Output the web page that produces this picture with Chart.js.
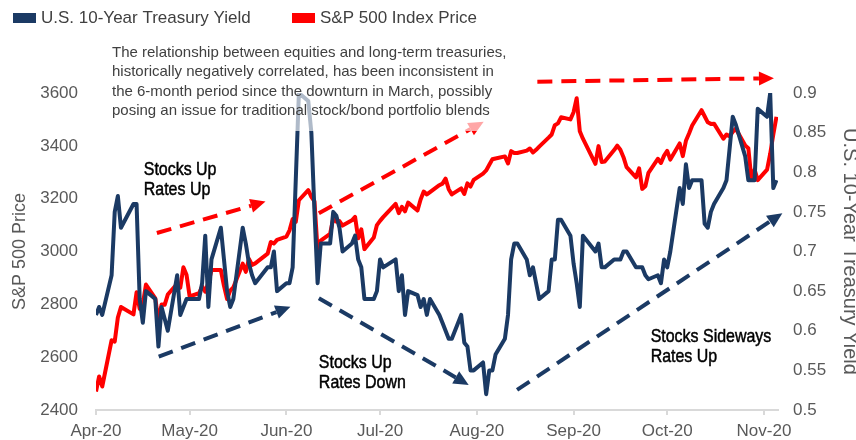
<!DOCTYPE html>
<html>
<head>
<meta charset="utf-8">
<script src="https://cdn.jsdelivr.net/npm/chart.js@4.4.0/dist/chart.umd.min.js"></script>
<style>
  html, body { margin: 0; padding: 0; background: #fff; }
</style>
</head>
<body>
<canvas id="myChart" width="856" height="440"></canvas>
<script>
// trading days, Apr 1 - Nov 5 2020
const dates = [
  '4/1','4/2','4/3','4/6','4/7','4/8','4/9','4/13','4/14','4/15','4/16','4/17','4/20','4/21','4/22','4/23','4/24','4/27','4/28','4/29','4/30',
  '5/1','5/4','5/5','5/6','5/7','5/8','5/11','5/12','5/13','5/14','5/15','5/18','5/19','5/20','5/21','5/22','5/26','5/27','5/28','5/29',
  '6/1','6/2','6/3','6/4','6/5','6/8','6/9','6/10','6/11','6/12','6/15','6/16','6/17','6/18','6/19','6/22','6/23','6/24','6/25','6/26','6/29','6/30',
  '7/1','7/2','7/6','7/7','7/8','7/9','7/10','7/13','7/14','7/15','7/16','7/17','7/20','7/21','7/22','7/23','7/24','7/27','7/28','7/29','7/30','7/31',
  '8/3','8/4','8/5','8/6','8/7','8/10','8/11','8/12','8/13','8/14','8/17','8/18','8/19','8/20','8/21','8/24','8/25','8/26','8/27','8/28','8/31',
  '9/1','9/2','9/3','9/4','9/8','9/9','9/10','9/11','9/14','9/15','9/16','9/17','9/18','9/21','9/22','9/23','9/24','9/25','9/28','9/29','9/30',
  '10/1','10/2','10/5','10/6','10/7','10/8','10/9','10/12','10/13','10/14','10/15','10/16','10/19','10/20','10/21','10/22','10/23','10/26','10/27','10/28','10/29','10/30',
  '11/2','11/3','11/4','11/5'
];

const spxPrice = [
  2470, 2527, 2489, 2664, 2659, 2750, 2790, 2762, 2846, 2783, 2800, 2875, 2823, 2737, 2799, 2798, 2837, 2878, 2863, 2940, 2912,
  2830, 2842, 2868, 2848, 2881, 2930, 2930, 2870, 2820, 2852, 2864, 2954, 2923, 2972, 2949, 2955, 2992, 3036, 3030, 3044,
  3056, 3080, 3123, 3112, 3194, 3232, 3207, 3190, 3002, 3041, 3067, 3125, 3113, 3115, 3098, 3118, 3131, 3050, 3084, 3009, 3053, 3100,
  3116, 3130, 3180, 3145, 3169, 3152, 3185, 3155, 3197, 3227, 3216, 3225, 3251, 3257, 3276, 3236, 3216, 3239, 3218, 3258, 3246, 3271,
  3295, 3307, 3328, 3349, 3352, 3360, 3333, 3380, 3373, 3373, 3382, 3390, 3375, 3385, 3397, 3431, 3443, 3478, 3485, 3508, 3500,
  3527, 3580, 3455, 3427, 3332, 3399, 3339, 3341, 3384, 3401, 3385, 3357, 3319, 3281, 3315, 3237, 3247, 3298, 3351, 3335, 3363,
  3381, 3348, 3409, 3361, 3419, 3447, 3477, 3535, 3512, 3489, 3483, 3484, 3427, 3443, 3436, 3453, 3465, 3401, 3391, 3271, 3310, 3270,
  3310, 3370, 3443, 3510
];

const treasuryYield = [
  0.62, 0.63, 0.62, 0.67, 0.75, 0.77, 0.73, 0.76, 0.76, 0.64, 0.61, 0.65, 0.64, 0.58, 0.63, 0.615, 0.60, 0.67, 0.62, 0.63, 0.64,
  0.64, 0.64, 0.66, 0.72, 0.63, 0.69, 0.73, 0.69, 0.65, 0.63, 0.64, 0.73, 0.71, 0.685, 0.67, 0.66, 0.68, 0.68, 0.70, 0.65,
  0.66, 0.66, 0.68, 0.79, 0.90, 0.89, 0.85, 0.75, 0.66, 0.71, 0.71, 0.75, 0.745, 0.73, 0.70, 0.71, 0.72, 0.69, 0.68, 0.64, 0.64, 0.65,
  0.69, 0.68, 0.69, 0.65, 0.67, 0.62, 0.65, 0.645, 0.63, 0.64, 0.62, 0.64, 0.62, 0.61, 0.60, 0.59, 0.59, 0.62, 0.585, 0.58, 0.55, 0.55,
  0.56, 0.52, 0.55, 0.55, 0.57, 0.59, 0.62, 0.69, 0.71, 0.71, 0.69, 0.67, 0.68, 0.66, 0.64, 0.65, 0.69, 0.69, 0.74, 0.74, 0.72,
  0.685, 0.66, 0.63, 0.72, 0.70, 0.71, 0.68, 0.68, 0.69, 0.69, 0.69, 0.70, 0.70, 0.68, 0.68, 0.68, 0.67, 0.665, 0.67, 0.66, 0.69,
  0.68, 0.70, 0.78, 0.76, 0.81, 0.78, 0.79, 0.79, 0.735, 0.73, 0.75, 0.76, 0.78, 0.79, 0.83, 0.87, 0.86, 0.82, 0.79, 0.79, 0.79, 0.88,
  0.87, 0.90, 0.78, 0.79
];

const monthStarts = ['4/1', '5/1', '6/1', '7/1', '8/1', '9/1', '10/1', '11/1'];
const monthLabels = ['Apr-20', 'May-20', 'Jun-20', 'Jul-20', 'Aug-20', 'Sep-20', 'Oct-20', 'Nov-20'];
const priceTicks = [2400, 2600, 2800, 3000, 3200, 3400, 3600];
const yieldTicks = ['0.5', '0.55', '0.6', '0.65', '0.7', '0.75', '0.8', '0.85', '0.9'];

const legendLabels = ['U.S. 10-Year Treasury Yield', 'S&P 500 Index Price'];
const note = [
  'The relationship between equities and long-term treasuries,',
  'historically negatively correlated, has been inconsistent in',
  'the 6-month period since the downturn in March, possibly',
  'posing an issue for traditional stock/bond portfolio blends'
];

const NAVY = '#1b3a64';
const RED = '#ff0000';
const GREY = '#595959';
const SANS = "'Liberation Sans', Arial, sans-serif";

// arrows and labels in axis units: [day, S&P value]
const arrows = [
  { from: [19.5, 3070], to: [54.3, 3189], color: RED },
  { from: [20.1, 2602], to: [62.3, 2791], color: NAVY },
  { from: [71.4, 3145], to: [124.2, 3491], color: RED },
  { from: [71.4, 2823], to: [119.4, 2495], color: NAVY },
  { from: [141.4, 3643], to: [217.2, 3656], color: RED },
  { from: [134.9, 2476], to: [219.9, 3145], color: NAVY }
];
const labels = [
  { at: [15.3, 3290], lines: ['Stocks Up', 'Rates Up'] },
  { at: [71.4, 2559], lines: ['Stocks Up', 'Rates Down'] },
  { at: [177.7, 2659], lines: ['Stocks Sideways', 'Rates Up'] }
];

function dayOf(s) {
  const [m, d] = s.split('/').map(Number);
  return (Date.UTC(2020, m - 1, d) - Date.UTC(2020, 3, 1)) / 86400000;
}

const days = dates.map(dayOf);
const tickDays = monthStarts.map(dayOf);

function drawArrow(ctx, x0, y0, x1, y1, color) {
  const ang = Math.atan2(y1 - y0, x1 - x0);
  const head = 15, half = 7;
  const len = Math.hypot(x1 - x0, y1 - y0) - head;
  ctx.save();
  ctx.translate(x0, y0);
  ctx.rotate(ang);
  ctx.strokeStyle = color;
  ctx.lineWidth = 4;
  ctx.setLineDash([15, 9]);
  ctx.beginPath();
  ctx.moveTo(0, 0);
  ctx.lineTo(len, 0);
  ctx.stroke();
  ctx.setLineDash([]);
  ctx.fillStyle = color;
  ctx.beginPath();
  ctx.moveTo(len + head, 0);
  ctx.lineTo(len, -half);
  ctx.lineTo(len, half);
  ctx.closePath();
  ctx.fill();
  ctx.restore();
}

const notesPlugin = {
  id: 'notes',
  afterDatasetsDraw(chart) {
    const { ctx } = chart;
    const x = chart.scales.x, y = chart.scales.y;
    arrows.forEach(a => drawArrow(ctx,
      x.getPixelForValue(a.from[0]), y.getPixelForValue(a.from[1]),
      x.getPixelForValue(a.to[0]), y.getPixelForValue(a.to[1]), a.color));

    ctx.save();
    // translucent note box
    ctx.fillStyle = 'rgba(255,255,255,0.65)';
    ctx.fillRect(106, 36, 410, 95);
    ctx.fillStyle = '#404040';
    ctx.font = '15px ' + SANS;
    ctx.textBaseline = 'alphabetic';
    ctx.textAlign = 'left';
    note.forEach((line, i) => ctx.fillText(line, 112, 56.5 + i * 19.6));

    // condensed black labels
    ctx.fillStyle = '#000';
    ctx.strokeStyle = '#000';
    ctx.lineWidth = 0.5;
    ctx.font = '19px ' + SANS;
    labels.forEach(l => {
      const px = x.getPixelForValue(l.at[0]), py = y.getPixelForValue(l.at[1]);
      l.lines.forEach((t, i) => {
        ctx.save();
        ctx.translate(px, py + i * 20);
        ctx.scale(0.84, 1);
        ctx.fillText(t, 0, 0);
        ctx.strokeText(t, 0, 0);
        ctx.restore();
      });
    });

    // legend
    ctx.font = '17px ' + SANS;
    ctx.fillStyle = NAVY;
    ctx.fillRect(13, 13, 23, 10);
    ctx.fillStyle = RED;
    ctx.fillRect(292, 13, 23, 10);
    ctx.fillStyle = '#404040';
    ctx.textBaseline = 'middle';
    ctx.fillText(legendLabels[0], 41, 18.5);
    ctx.fillText(legendLabels[1], 320, 18.5);
    ctx.restore();
  }
};

new Chart(document.getElementById('myChart'), {
  type: 'line',
  data: {
    datasets: [
      {
        label: legendLabels[0],
        data: days.map((d, i) => ({ x: d, y: treasuryYield[i] })),
        yAxisID: 'y1',
        borderColor: NAVY,
        backgroundColor: NAVY,
        borderWidth: 4,
        borderJoinStyle: 'round',
        pointRadius: 0,
        tension: 0,
        order: 0
      },
      {
        label: legendLabels[1],
        data: days.map((d, i) => ({ x: d, y: spxPrice[i] })),
        yAxisID: 'y',
        borderColor: RED,
        backgroundColor: RED,
        borderWidth: 4,
        borderJoinStyle: 'round',
        pointRadius: 0,
        tension: 0,
        order: 1
      }
    ]
  },
  options: {
    responsive: false,
    animation: false,
    devicePixelRatio: 1,
    layout: { padding: { top: 93, left: 0, right: 0, bottom: 0 } },
    plugins: { legend: { display: false }, tooltip: { enabled: false } },
    scales: {
      x: {
        type: 'linear',
        min: 0,
        max: 218.5,
        afterBuildTicks: s => { s.ticks = tickDays.map(v => ({ value: v })); },
        afterFit: s => { s.height = 30; },
        ticks: {
          autoSkip: false,
          maxRotation: 0,
          padding: 6,
          color: GREY,
          font: { family: SANS, size: 17 },
          callback: (v, i) => monthLabels[i]
        },
        grid: { drawOnChartArea: false, drawTicks: true, tickLength: 5, color: '#d9d9d9', lineWidth: 2 },
        border: { display: true, color: '#d9d9d9', width: 2 }
      },
      y: {
        position: 'left',
        min: 2400,
        max: 3600,
        afterBuildTicks: s => { s.ticks = priceTicks.map(v => ({ value: v })); },
        afterFit: s => { s.width = 96; },
        ticks: { padding: 18, color: GREY, font: { family: SANS, size: 17 }, callback: (v, i) => String(priceTicks[i]) },
        grid: { display: false, drawTicks: false },
        border: { display: false },
        title: { display: true, text: 'S&P 500 Price', color: GREY, font: { family: SANS, size: 18 }, padding: { top: 9, bottom: 0 } }
      },
      y1: {
        position: 'right',
        min: 0.5,
        max: 0.9,
        afterBuildTicks: s => { s.ticks = yieldTicks.map(v => ({ value: parseFloat(v) })); },
        afterFit: s => { s.width = 78; },
        ticks: { padding: 15, color: GREY, font: { family: SANS, size: 17 }, callback: (v, i) => yieldTicks[i] },
        grid: { display: false, drawTicks: false },
        border: { display: false },
        title: { display: true, text: 'U.S. 10-Year Treasury Yield', color: GREY, font: { family: SANS, size: 20, lineHeight: 1 }, padding: { top: -4, bottom: 0 } }
      }
    }
  },
  plugins: [notesPlugin]
});
</script>
</body>
</html>
